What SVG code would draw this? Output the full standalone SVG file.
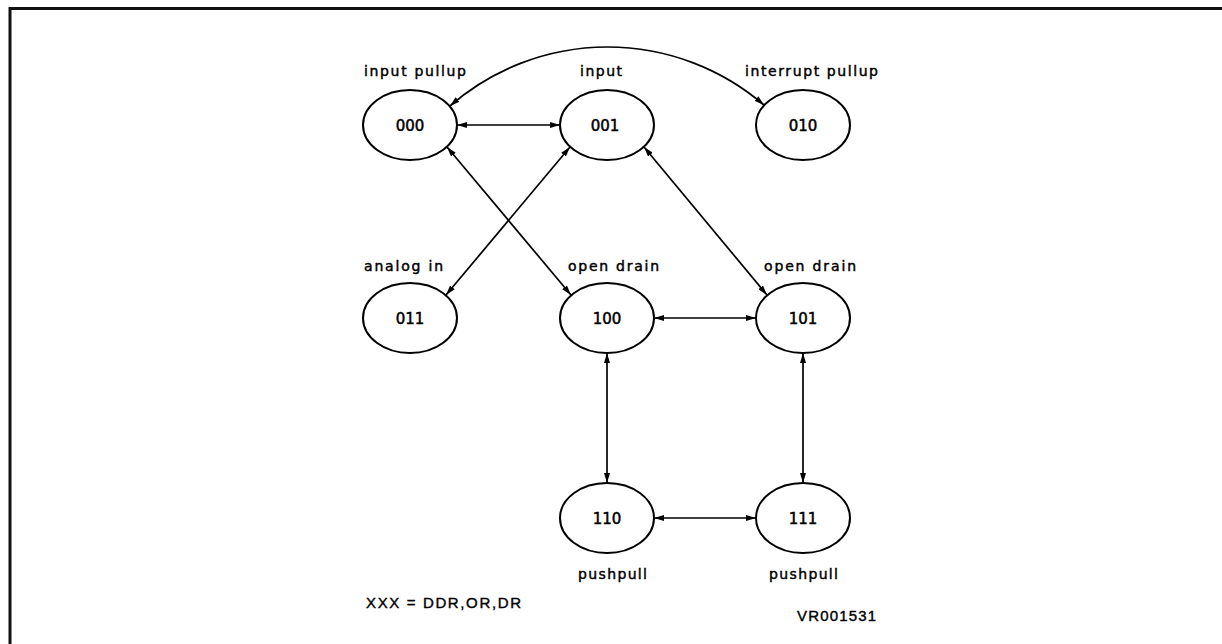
<svg xmlns="http://www.w3.org/2000/svg" width="1222" height="644" viewBox="0 0 1222 644">
  <style>
    .frame { stroke: #111; stroke-width: 3; fill: none; }
    .state { fill: #fff; stroke: #000; stroke-width: 2; }
    .code { font-family: "DejaVu Sans", "Liberation Sans", sans-serif; font-size: 15px; fill: #000; stroke: #000; stroke-width: 0.5; text-anchor: middle; }
    .mode { font-family: "DejaVu Sans", "Liberation Sans", sans-serif; font-size: 14px; fill: #000; stroke: #000; stroke-width: 0.45; }
    .note { font-family: "Liberation Sans", Arial, sans-serif; font-size: 15px; fill: #000; stroke: #000; stroke-width: 0.4; }
    .link { fill: none; stroke: #000; stroke-width: 1.7; marker-start: url(#tip); marker-end: url(#tip); }
  </style>
  <defs>
    <marker id="tip" viewBox="0 0 10 6" refX="10" refY="3" markerWidth="10" markerHeight="6" markerUnits="userSpaceOnUse" orient="auto-start-reverse">
      <path d="M0,0 L10,3 L0,6 Z" fill="#000"/>
    </marker>
  </defs>

  <rect width="1222" height="644" fill="#fff"/>
  <!-- frame: top and left rules -->
  <path class="frame" d="M10,644 V8.5 H1222"/>

  <!-- transitions (all bidirectional) -->
  <g id="connectors">
    <path class="link" d="M450,106 A240,240 0 0 1 764,105"/>
    <path class="link" d="M457,125 H560"/>
    <path class="link" d="M447,147 L571,295"/>
    <path class="link" d="M570,147 L446,295"/>
    <path class="link" d="M644,147 L767,295"/>
    <path class="link" d="M654,318 H756"/>
    <path class="link" d="M607,353 V483"/>
    <path class="link" d="M803,353 V483"/>
    <path class="link" d="M654,518 H756"/>
  </g>

  <g id="s000">
    <ellipse class="state" cx="410" cy="125" rx="47" ry="35"/>
    <text class="code" x="410" y="131">000</text>
    <text class="mode" x="364" y="76" textLength="102" lengthAdjust="spacing">input  pullup</text>
  </g>
  <g id="s001">
    <ellipse class="state" cx="607" cy="125" rx="47" ry="35"/>
    <text class="code" x="605" y="131">001</text>
    <text class="mode" x="580" y="76" textLength="42" lengthAdjust="spacing">input</text>
  </g>
  <g id="s010">
    <ellipse class="state" cx="803" cy="125" rx="47" ry="35"/>
    <text class="code" x="803" y="131">010</text>
    <text class="mode" x="745" y="76" textLength="133" lengthAdjust="spacing">interrupt  pullup</text>
  </g>
  <g id="s011">
    <ellipse class="state" cx="410" cy="318" rx="47" ry="35"/>
    <text class="code" x="410" y="324">011</text>
    <text class="mode" x="364" y="271" textLength="79" lengthAdjust="spacing">analog  in</text>
  </g>
  <g id="s100">
    <ellipse class="state" cx="607" cy="318" rx="47" ry="35"/>
    <text class="code" x="607" y="324">100</text>
    <text class="mode" x="568" y="271" textLength="91" lengthAdjust="spacing">open  drain</text>
  </g>
  <g id="s101">
    <ellipse class="state" cx="803" cy="318" rx="47" ry="35"/>
    <text class="code" x="803" y="324">101</text>
    <text class="mode" x="764" y="271" textLength="92" lengthAdjust="spacing">open  drain</text>
  </g>
  <g id="s110">
    <ellipse class="state" cx="607" cy="518" rx="47" ry="35"/>
    <text class="code" x="607" y="524">110</text>
    <text class="mode" x="578" y="579" textLength="69" lengthAdjust="spacing">pushpull</text>
  </g>
  <g id="s111">
    <ellipse class="state" cx="803" cy="518" rx="47" ry="35"/>
    <text class="code" x="803" y="524">111</text>
    <text class="mode" x="769" y="579" textLength="69" lengthAdjust="spacing">pushpull</text>
  </g>

  <g id="legend">
    <text class="note" x="366" y="608" textLength="155" lengthAdjust="spacing">XXX  =  DDR,OR,DR</text>
    <text class="note" x="797" y="621" textLength="79" lengthAdjust="spacing">VR001531</text>
  </g>
</svg>
